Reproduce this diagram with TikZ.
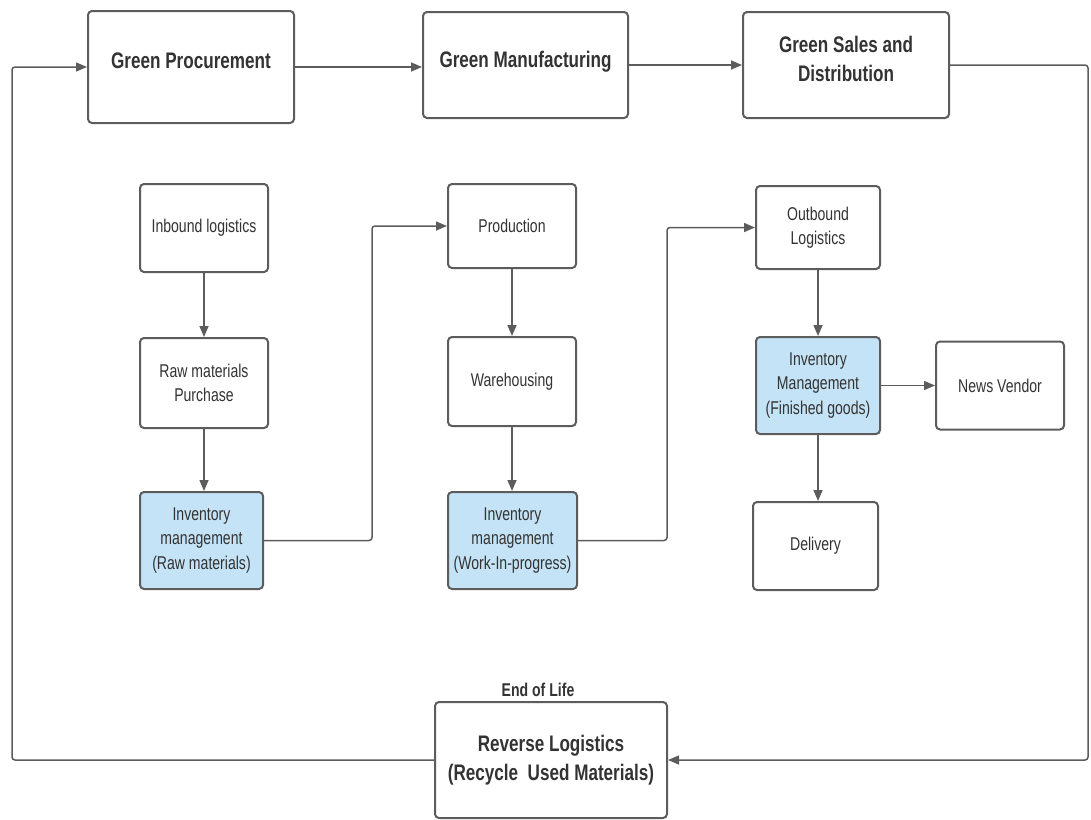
\documentclass[tikz,border=0pt]{standalone}
\usepackage{fontspec}
\setmainfont{Liberation Sans}[FakeStretch=0.76]
\usetikzlibrary{arrows.meta,positioning}
\definecolor{boxline}{HTML}{5C5C5C}
\definecolor{invblue}{HTML}{C4E3F6}
\definecolor{txtgray}{HTML}{333333}

\begin{document}
\begin{tikzpicture}[x=1pt, y=-1pt, >={Triangle[length=11pt, width=9pt]}]
        \tikzset{
            stage/.style={draw=boxline, fill=white, rectangle, line width=2pt, rounded corners=4pt, align=center, inner sep=0pt, text=txtgray, font=\fontsize{22.5}{29}\selectfont\bfseries},
            topstage/.style={stage, text depth=12pt},
            task/.style={draw=boxline, fill=white, rectangle, line width=2pt, rounded corners=4pt, align=center, inner sep=0pt, text=txtgray, font=\fontsize{18.5}{24.5}\selectfont, minimum width=128pt, minimum height=88pt},
            inventory/.style={task, fill=invblue},
            note/.style={text=txtgray, font=\fontsize{18.5}{22}\selectfont\bfseries, inner sep=0pt},
            line/.style={draw=boxline, ->, line width=1.5pt, rounded corners=3pt}
        }

        \useasboundingbox (0,0) rectangle (1091,819);

        % Green stages
        \node [topstage, minimum width=206pt, minimum height=112pt] (proc) at (191, 67) {Green Procurement};
        \node [topstage, minimum width=205pt, minimum height=106pt] (manu) at (525.5, 65) {Green Manufacturing};
        \node [topstage, minimum width=206pt, minimum height=106pt] (sales) at (846, 65) {Green Sales and\\Distribution};
        \node [stage, minimum width=232pt, minimum height=116pt] (reverse) at (551, 760) {Reverse Logistics\\(Recycle~~Used Materials)};
        \node [note] (eol) at (538, 690) {End of Life};

        % Procurement column
        \node [task] (inbound) at (204, 228) {Inbound logistics};
        \node [task, minimum height=90pt] (purchase) at (204, 383) {Raw materials\\Purchase};
        \node [inventory, minimum width=123pt, minimum height=97pt] (invraw) at (201.5, 540.5) {Inventory\\management\\(Raw materials)};

        % Manufacturing column
        \node [task, minimum height=84pt] (production) at (512, 226) {Production};
        \node [task, minimum height=89pt] (warehouse) at (512, 381.5) {Warehousing};
        \node [inventory, minimum width=129pt, minimum height=97pt] (invwip) at (512.5, 540.5) {Inventory\\management\\(Work-In-progress)};

        % Sales column
        \node [task, minimum width=124pt, minimum height=83pt] (outbound) at (818, 227.5) {Outbound\\Logistics};
        \node [inventory, minimum width=124pt, minimum height=97pt] (invfg) at (818, 385.5) {Inventory\\Management\\(Finished goods)};
        \node [task] (vendor) at (1000, 385.5) {News Vendor};
        \node [task, minimum width=125pt] (delivery) at (815.5, 546) {Delivery};

        % Rails for the bent connectors
        \coordinate (railA) at (372, 0);
        \coordinate (railB) at (667, 0);
        \coordinate (railR) at (1088, 0);
        \coordinate (railL) at (12, 0);

        % Main flow
        \draw [line] (proc.east) -- (proc.east -| manu.west);
        \draw [line] (manu.east) -- (sales.west);
        \draw [line] (sales.east) -| (railR |- reverse.east) -- (reverse.east);
        \draw [line] (reverse.west) -| (railL |- proc.west) -- (proc.west);

        % Column flows
        \draw [line] (inbound.south) -- (purchase.north);
        \draw [line] (purchase.south) -- (purchase.south |- invraw.north);
        \draw [line] (invraw.east) -- (invraw.east -| railA) |- (production.west);
        \draw [line] (production.south) -- (warehouse.north);
        \draw [line] (warehouse.south) -- (warehouse.south |- invwip.north);
        \draw [line] (invwip.east) -- (invwip.east -| railB) |- (outbound.west);
        \draw [line] (outbound.south) -- (invfg.north);
        \draw [line] (invfg.east) -- (vendor.west);
        \draw [line] (invfg.south) -- (invfg.south |- delivery.north);
\end{tikzpicture}
\end{document}
